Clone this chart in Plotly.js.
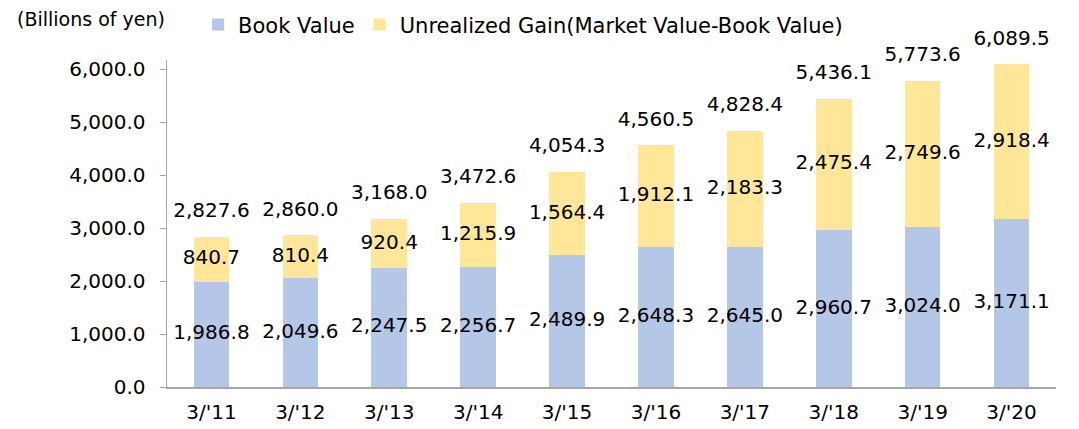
<!DOCTYPE html>
<html><head><meta charset="utf-8">
<script src="https://cdn.plot.ly/plotly-3.0.1.min.js"></script>
<style>html,body{margin:0;padding:0;background:#fff}#c{width:1079px;height:429px}</style>
</head><body><div id="c"></div>
<script>
const categories = ["3/'11","3/'12","3/'13","3/'14","3/'15","3/'16","3/'17","3/'18","3/'19","3/'20"];
const bookValue = [1986.8,2049.6,2247.5,2256.7,2489.9,2648.3,2645.0,2960.7,3024.0,3171.1];
const unrealizedGain = [840.7,810.4,920.4,1215.9,1564.4,1912.1,2183.3,2475.4,2749.6,2918.4];
const totals = [2827.6,2860.0,3168.0,3472.6,4054.3,4560.5,4828.4,5436.1,5773.6,6089.5];

const fmt = v => v.toLocaleString('en-US',{minimumFractionDigits:1,maximumFractionDigits:1});
const FAM = 'Verdana, "DejaVu Sans", sans-serif';
const font = {family:FAM, size:20, color:'#000'};

const traces = [
  {type:'bar', name:'Book Value', x:categories, y:bookValue, marker:{color:'#b4c7e7'}, width:0.4, hoverinfo:'none'},
  {type:'bar', name:'Unrealized Gain(Market Value-Book Value)', x:categories, y:unrealizedGain, marker:{color:'#ffe699'}, width:0.4, hoverinfo:'none'},
  {type:'scatter', mode:'text', x:categories, y:bookValue.map(v=>v/2), text:bookValue.map(fmt), textposition:'middle center', textfont:font, showlegend:false, hoverinfo:'none'},
  {type:'scatter', mode:'text', x:categories, y:bookValue.map((b,i)=>b+unrealizedGain[i]/2), text:unrealizedGain.map(fmt), textposition:'middle center', textfont:font, showlegend:false, hoverinfo:'none'},
  {type:'scatter', mode:'markers+text', x:categories, y:totals, text:totals.map(fmt), textposition:'top center', textfont:font, marker:{size:22, opacity:0}, showlegend:false, hoverinfo:'none', cliponaxis:false}
];

const layout = {
  width:1079, height:429,
  margin:{l:167, r:23, t:60, b:42},
  barmode:'stack',
  paper_bgcolor:'#fff', plot_bgcolor:'#fff',
  font:{family:FAM, size:20, color:'#000'},
  showlegend:true,
  legend:{orientation:'h', x:0.035, xanchor:'left', y:0.99, yanchor:'top', yref:'container', font:{size:21}, itemwidth:30, tracegroupgap:0, traceorder:'normal'},
  xaxis:{type:'category', range:[-0.5,9.5], autorange:false, showline:true, linecolor:'#a6a6a6', linewidth:2, ticks:'', showgrid:false, zeroline:false, tickfont:{size:20}, ticklabelstandoff:6},
  yaxis:{range:[0,6170], autorange:false, tick0:0, dtick:1000, tickformat:',.1f', showline:true, linecolor:'#a6a6a6', linewidth:1.5, ticks:'outside', ticklen:6, tickcolor:'#a6a6a6', showgrid:false, zeroline:false, tickfont:{size:20}, ticklabelstandoff:10},
  annotations:[{text:'(Billions of yen)', xref:'paper', yref:'paper', x:-0.168, xshift:-3, y:1.0, yshift:41, xanchor:'left', yanchor:'middle', showarrow:false, font:{size:19}}]
};
Plotly.newPlot('c', traces, layout, {displayModeBar:false, staticPlot:true});
</script></body></html>
